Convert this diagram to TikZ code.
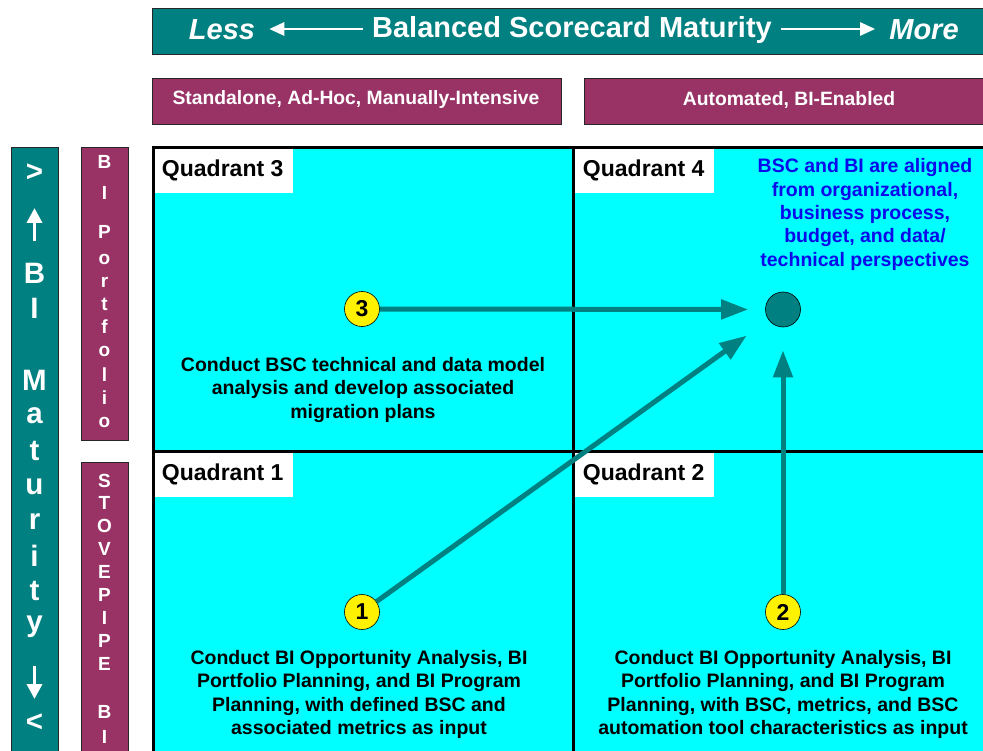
\documentclass[tikz,border=0pt]{standalone}
\usepackage{fontspec}
\setmainfont{Liberation Sans}
\usetikzlibrary{arrows.meta}
\definecolor{bscteal}{RGB}{0,128,128}
\definecolor{bscpurple}{RGB}{153,51,102}
\definecolor{bsccyan}{RGB}{0,255,255}
\definecolor{bscblue}{RGB}{10,10,235}
\tikzset{
  band/.style={draw=black!85, line width=0.8pt, fill=bscteal, anchor=north west, inner sep=0pt},
  pband/.style={draw=black!85, line width=0.8pt, fill=bscpurple, anchor=north west, inner sep=0pt},
  bantext/.style={text=white, font=\bfseries\fontsize{29}{34}\selectfont, inner sep=0pt},
  ptext/.style={text=white, font=\bfseries\fontsize{19.3}{23}\selectfont, inner sep=0pt},
  qlabel/.style={fill=white, anchor=north west, minimum width=141pt, minimum height=46pt, inner sep=0pt, font=\bfseries\fontsize{23}{27}\selectfont},
  body/.style={font=\bfseries\fontsize{19.5}{23.3}\selectfont, align=center, inner sep=0pt},
  num/.style={circle, draw=black, line width=0.6pt, fill=yellow, minimum size=35pt, inner sep=0pt, font=\bfseries\fontsize{23}{26}\selectfont},
  goal/.style={circle, draw=black, line width=0.6pt, fill=bscteal, minimum size=35pt, inner sep=0pt},
  flow/.style={draw=bscteal, line width=5pt, -{Triangle[length=27pt,width=19pt]}},
  banarrow/.style={draw=white, line width=2.6pt, -{Triangle[length=15pt,width=13pt]}},
  sidearrow/.style={draw=white, line width=3.5pt, -{Triangle[length=15pt,width=15pt]}},
  divider/.style={draw=black, line width=3pt},
  bigletter/.style={text=white, font=\bfseries\fontsize{29.5}{32}\selectfont, inner sep=0pt},
  smallletter/.style={text=white, font=\bfseries\fontsize{19}{21}\selectfont, inner sep=0pt}
}
\begin{document}
\begin{tikzpicture}[x=1pt,y=-1pt]
\useasboundingbox (0,0) rectangle (983,751);
\clip (0,0) rectangle (983,751);
\fill[white] (0,0) rectangle (983,751);

% top banner
\node[band, minimum width=850pt, minimum height=46pt] (banner) at (152,8) {};
\node[bantext, font=\bfseries\itshape\fontsize{29}{34}\selectfont] (less) at (222,30) {Less};
\node[bantext] (title) at (572,30) {Balanced Scorecard Maturity};
\node[bantext, font=\bfseries\itshape\fontsize{29}{34}\selectfont] (more) at (924,30) {More};
\draw[banarrow] ([xshift=-9pt,yshift=1pt]title.west) -- ([xshift=14pt,yshift=1pt]less.east);
\draw[banarrow] ([xshift=9pt,yshift=1pt]title.east) -- ([xshift=-14pt,yshift=1pt]more.west);

% column headers
\node[pband, minimum width=409pt, minimum height=46pt] (colA) at (152,78) {};
\node[ptext] (colAtext) at (356,100) {Standalone, Ad-Hoc, Manually-Intensive};
\node[pband, minimum width=420pt, minimum height=46pt] (colB) at (584,78) {};
\node[ptext] (colBtext) at (789,100) {Automated, BI-Enabled};

% left bars
\node[band, minimum width=47pt, minimum height=620pt] (bimat) at (11,147) {};
\node[pband, minimum width=47pt, minimum height=293pt] (portfolio) at (81,147) {};
\node[pband, minimum width=47pt, minimum height=300pt] (stovepipe) at (81,462) {};

\foreach \ch/\yy [count=\k] in {>/173, B/273, I/308, M/380, a/416, t/451, u/487, r/522, i/556, t/591, y/627, </723}
  \node[bigletter] (mat\k) at (34.5,\yy) {\ch};
\coordinate (upfoot) at (34.5,241);
\coordinate (uptip) at (34.5,208);
\coordinate (downfoot) at (34.5,666);
\coordinate (downtip) at (34.5,699);
\draw[sidearrow] (upfoot) -- (uptip);
\draw[sidearrow] (downfoot) -- (downtip);

\foreach \ch/\yy [count=\k] in {B/162, I/193, P/232, o/259, r/282, t/304, f/327, o/351, l/375, i/398, o/422}
  \node[smallletter] (port\k) at (104.5,\yy) {\ch};

\foreach \ch/\yy [count=\k] in {S/481, T/503, O/526, V/549, E/572, P/595, I/618, P/641, E/664, B/712, I/737}
  \node[smallletter] (stove\k) at (104.5,\yy) {\ch};

% quadrant area
\fill[bsccyan] (152,147) rectangle (990,760);
\node[qlabel] (q3) at (152,147) {Quadrant 3};
\node[qlabel] (q4) at (573,147) {Quadrant 4};
\node[qlabel] (q1) at (152,451) {Quadrant 1};
\node[qlabel] (q2) at (573,451) {Quadrant 2};
\draw[divider] (152,147.5) -- (990,147.5);
\draw[divider] (153.5,147) -- (153.5,760);
\draw[divider] (573.5,147) -- (573.5,760);
\draw[divider] (152,451.5) -- (990,451.5);

% texts
\node[body] (t3) at (363,390) {Conduct BSC technical and data model\\analysis and develop associated\\migration plans};
\node[body] (t1) at (359,694.5) {Conduct BI Opportunity Analysis, BI\\Portfolio Planning, and BI Program\\Planning, with defined BSC and\\associated metrics as input};
\node[body] (t2) at (783,694.5) {Conduct BI Opportunity Analysis, BI\\Portfolio Planning, and BI Program\\Planning, with BSC, metrics, and BSC\\automation tool characteristics as input};
\node[body, text=bscblue] (t4) at (865,214.5) {BSC and BI are aligned\\from organizational,\\business process,\\budget, and data/\\technical perspectives};

% numbered steps and goal
\node[num] (n3) at (362,309) {3};
\node[num] (n1) at (362,612) {1};
\node[num] (n2) at (783,612) {2};
\node[goal] (goal) at (783,309.5) {};

\draw[flow, shorten >=17pt] (n3) -- (goal);
\draw[flow, shorten >=27pt] (n1) -- (goal);
\draw[flow, shorten >=23pt] (n2) -- (goal);
\end{tikzpicture}
\end{document}
